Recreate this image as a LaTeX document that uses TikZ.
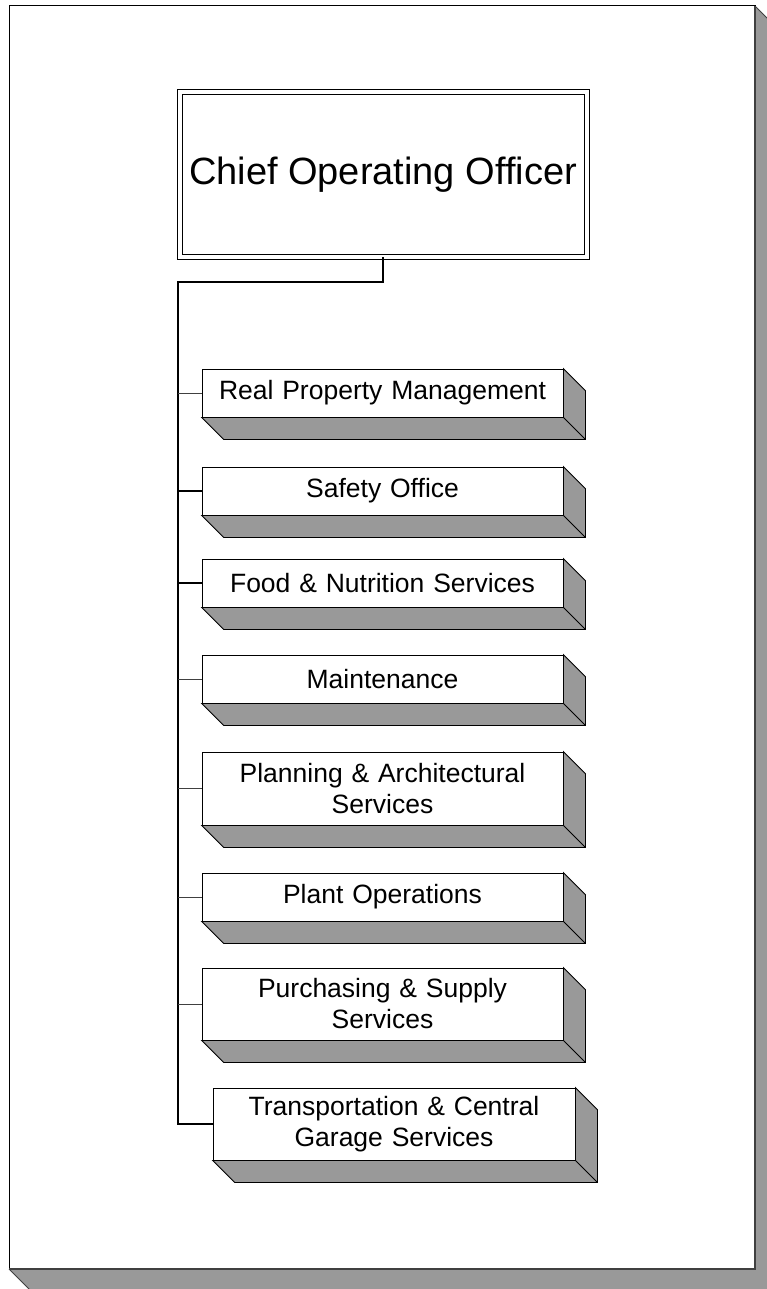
\documentclass[tikz,border=0pt]{standalone}
\usepackage{fontspec}
\setmainfont{Liberation Sans}
\begin{document}
\definecolor{facegray}{RGB}{153,153,153}
\definecolor{edgegray}{RGB}{64,64,64}
\begin{tikzpicture}[x=1pt,y=-1pt,
  unit/.style={draw=black,line width=0.8pt,fill=white,rectangle,inner sep=0pt,
    minimum width=361pt,minimum height=48pt,text width=350pt,align=center,
    font=\fontsize{26.5}{31}\selectfont},
  chief/.style={draw=black,line width=1pt,double=white,double distance=4pt,
    fill=white,rectangle,inner sep=0pt,minimum width=407pt,minimum height=164pt,
    font=\fontsize{38}{46}\selectfont},
  trunk/.style={line width=2.6pt,black},
  thick branch/.style={line width=1.8pt,black},
  thin branch/.style={line width=0.9pt,edgegray},
  depth/.style={fill=facegray,draw=black,line width=0.8pt,line join=miter}]
% page area and its raised edge
\clip (0,0) rectangle (767,1289);
\fill[fill=facegray] (755,6) -- (779,30) -- (779,1293) -- (33,1293) -- (9,1269) -- cycle;
\draw[edgegray,line width=1pt] (755,6) -- (779,30);
\draw[edgegray,line width=1pt] (9,1269) -- (33,1293);
\filldraw[fill=white,draw=black,line width=1pt] (9,6) rectangle (755,1269);
\draw[edgegray,line width=1.2pt] (755,6) -- (755,1269) -- (9,1269);

% head of the unit
\node[chief] (coo) at (383,174.5) {Chief Operating Officer};

% departments
\node[unit] (rpm)   at (382.5,393)   {Real Property Management};
\node[unit] (safe)  at (382.5,491)   {Safety Office};
\node[unit] (food)  at (382.5,583)   {Food \& Nutrition Services};
\node[unit] (maint) at (382.5,679)   {Maintenance};
\node[unit,minimum height=73pt] (plan) at (382.5,788.5) {Planning \& Architectural\\Services};
\node[unit] (plant) at (382.5,897)   {Plant Operations};
\node[unit,minimum height=72pt] (purch) at (382.5,1004) {Purchasing \& Supply\\Services};
\node[unit,minimum width=362pt,minimum height=72pt] (tcg) at (394,1124) {Transportation \& Central\\Garage Services};

% raised lower and right faces of each department box
\foreach \n in {rpm,safe,food,maint,plan,plant,purch,tcg}{
  \filldraw[depth] (\n.south west) -- ++(22,22) -- ([shift={(22,22)}]\n.south east)
    -- ([shift={(22,22)}]\n.north east) -- (\n.north east) -- (\n.south east) -- cycle;
  \draw[black,line width=0.8pt] (\n.south east) -- ++(22,22);
}

% reporting lines
\coordinate (elbow) at (178,282);
\draw[trunk] (coo.south) |- (elbow) -- (elbow |- tcg.west) -- (tcg.west);
\draw[thin branch]  (elbow |- rpm.west)   -- (rpm.west);
\draw[thick branch] (elbow |- safe.west)  -- (safe.west);
\draw[thick branch] (elbow |- food.west)  -- (food.west);
\draw[thin branch]  (elbow |- maint.west) -- (maint.west);
\draw[thin branch]  (elbow |- plan.west)  -- (plan.west);
\draw[thin branch]  (elbow |- plant.west) -- (plant.west);
\draw[thin branch]  (elbow |- purch.west) -- (purch.west);
\end{tikzpicture}
\end{document}
